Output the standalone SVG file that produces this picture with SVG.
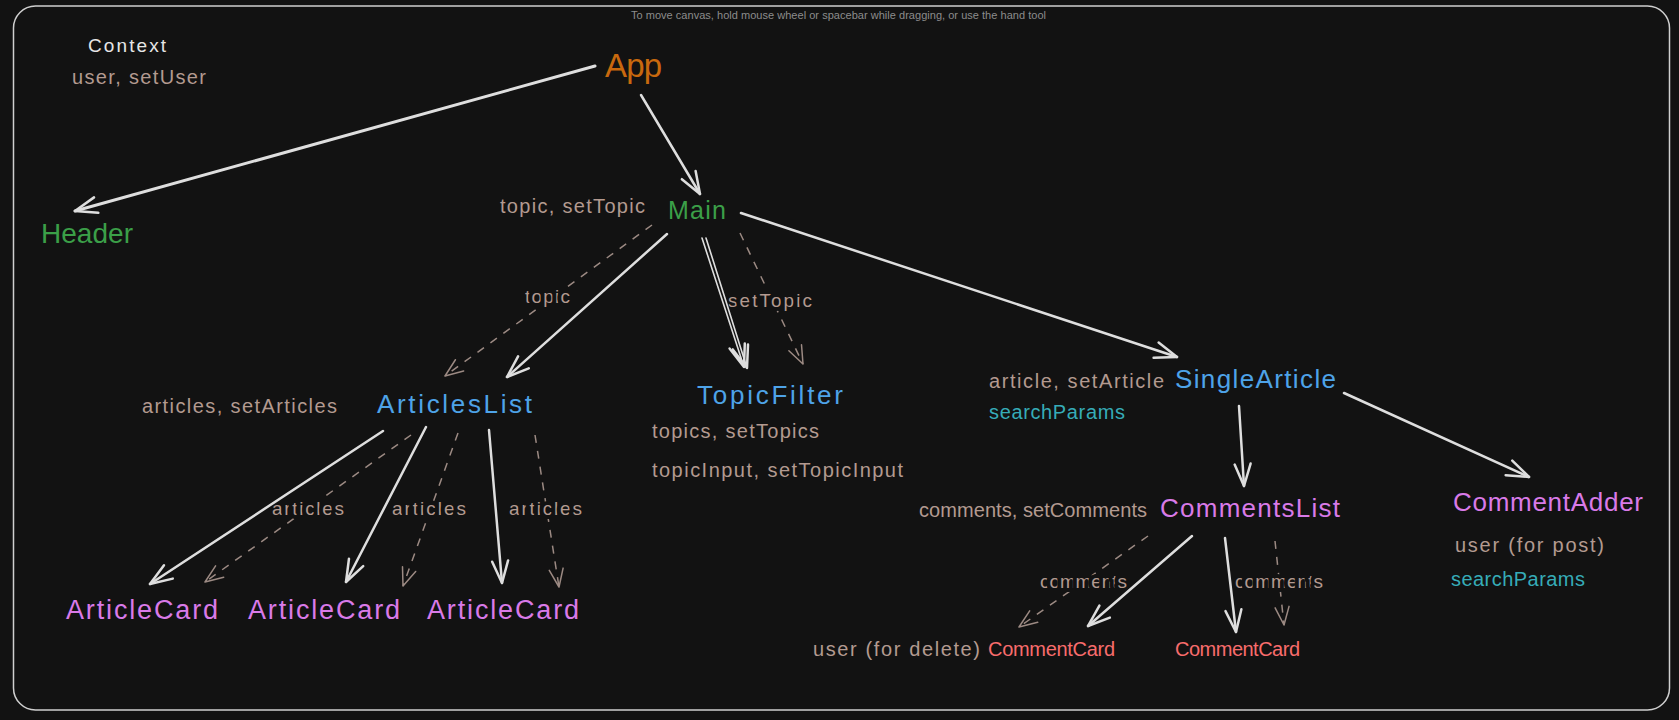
<svg xmlns="http://www.w3.org/2000/svg" width="1679" height="720" viewBox="0 0 1679 720">
<defs>
<style>
text{font-family:"Liberation Sans","DejaVu Sans",sans-serif;}
.hint{font-size:11px;fill:#8c8c8c;}
.node{font-size:26px;}
.lbl{font-size:20px;fill:#b39a90;}
.elbl{font-size:19px;fill:#b39a90;stroke:#121212;stroke-width:8px;paint-order:stroke;stroke-linejoin:round;}
.teal{fill:#36acb8;}
.green{fill:#3b9f48;}
.orange{fill:#c8690e;}
.blue{fill:#4ea3e8;}
.violet{fill:#d97ae8;}
.red{fill:#f86c6c;}
.solid{fill:none;stroke:#dedede;stroke-width:2.5;stroke-linecap:round;marker-end:url(#aw);}
.dash{fill:none;stroke:#9c8a83;stroke-width:1.5;stroke-dasharray:8 8;marker-end:url(#at);}
</style>
<marker id="aw" viewBox="-3 -3 28 22" refX="22" refY="8" markerWidth="28" markerHeight="22" markerUnits="userSpaceOnUse" orient="auto">
<path d="M0,0 L22,8 L0,16" fill="none" stroke="#dedede" stroke-width="2.5" stroke-linecap="round" stroke-linejoin="round"/>
</marker>
<marker id="at" viewBox="-3 -3 24 20" refX="18" refY="7" markerWidth="24" markerHeight="20" markerUnits="userSpaceOnUse" orient="auto">
<path d="M0,0 L18,7 L0,14" fill="none" stroke="#9c8a83" stroke-width="1.5" stroke-linecap="round" stroke-linejoin="round"/>
</marker>
</defs>
<rect x="0" y="0" width="1679" height="720" fill="#121212"/>
<rect x="13.5" y="6" width="1656" height="704" rx="22" fill="none" stroke="#cfcfcf" stroke-width="1.5"/>
<text class="hint" x="631" y="19" textLength="415">To move canvas, hold mouse wheel or spacebar while dragging, or use the hand tool</text>

<g id="context">
<text x="88" y="52" style="font-size:19px;fill:#e6e6e6" textLength="78">Context</text>
<text class="lbl" x="72" y="84" textLength="134">user, setUser</text>
</g>

<g id="connectors-dashed">
<path class="dash" d="M652,225 L445,376"/>
<path class="dash" d="M740,233 L803,364"/>
<path class="dash" d="M411,435 L205,582"/>
<path class="dash" d="M458,433 L403,586"/>
<path class="dash" d="M535,435 L559,587"/>
<path class="dash" d="M1148,536 L1019,627"/>
<path class="dash" d="M1275,541 L1284,625"/>
</g>

<g id="connector-labels">
<text class="elbl" x="525" y="303" textLength="45">topic</text>
<text class="elbl" x="728" y="307" textLength="84">setTopic</text>
<text class="elbl" x="272" y="515" textLength="72">articles</text>
<text class="elbl" x="392" y="515" textLength="74">articles</text>
<text class="elbl" x="509" y="515" textLength="73">articles</text>
<text class="elbl" x="1040" y="588" textLength="87">comments</text>
<text class="elbl" x="1235" y="588" textLength="88">comments</text>
</g>

<g id="connectors">
<path class="solid" style="stroke-width:3" d="M595,66 L75,211"/>
<path class="solid" d="M641,95 L700,194"/>
<path class="solid" d="M667,234 L507,377"/>
<path class="solid" style="stroke-width:1.6" d="M702,238 L744,367"/>
<path class="solid" style="stroke-width:1.6" d="M706,238 L747,368"/>
<path class="solid" d="M741,213 L1177,357"/>
<path class="solid" d="M383,431 L150,584"/>
<path class="solid" d="M426,427 L346,582"/>
<path class="solid" d="M489,430 L502,583"/>
<path class="solid" d="M1239,406 L1244,486"/>
<path class="solid" d="M1344,393 L1529,477"/>
<path class="solid" d="M1192,536 L1088,626"/>
<path class="solid" d="M1225,538 L1236,632"/>
</g>

<g id="App"><text class="node orange" x="605" y="77" style="font-size:33px" textLength="57">App</text></g>
<g id="Header"><text class="node green" x="41" y="243" style="font-size:28px" textLength="92">Header</text></g>
<g id="Main">
<text class="node green" x="668" y="219" style="font-size:25px" textLength="58">Main</text>
<text class="lbl" x="500" y="213" textLength="145">topic, setTopic</text>
</g>
<g id="ArticlesList">
<text class="node blue" x="377" y="413" textLength="155">ArticlesList</text>
<text class="lbl" x="142" y="413" textLength="195">articles, setArticles</text>
</g>
<g id="TopicFilter">
<text class="node blue" x="697" y="404" textLength="146">TopicFilter</text>
<text class="lbl" x="652" y="438" textLength="167">topics, setTopics</text>
<text class="lbl" x="652" y="477" textLength="251">topicInput, setTopicInput</text>
</g>
<g id="SingleArticle">
<text class="node blue" x="1175" y="388" textLength="161">SingleArticle</text>
<text class="lbl" x="989" y="388" textLength="175">article, setArticle</text>
<text class="lbl teal" x="989" y="419" textLength="136">searchParams</text>
</g>
<g id="ArticleCard1"><text class="node violet" x="66" y="619" style="font-size:27px" textLength="152">ArticleCard</text></g>
<g id="ArticleCard2"><text class="node violet" x="248" y="619" style="font-size:27px" textLength="152">ArticleCard</text></g>
<g id="ArticleCard3"><text class="node violet" x="427" y="619" style="font-size:27px" textLength="152">ArticleCard</text></g>
<g id="CommentsList">
<text class="node violet" x="1160" y="517" textLength="180">CommentsList</text>
<text class="lbl" x="919" y="517" textLength="228">comments, setComments</text>
</g>
<g id="CommentAdder">
<text class="node violet" x="1453" y="511" textLength="190">CommentAdder</text>
<text class="lbl" x="1455" y="552" textLength="149">user (for post)</text>
<text class="lbl teal" x="1451" y="586" textLength="134">searchParams</text>
</g>
<g id="CommentCard1">
<text class="node red" x="988" y="656" style="font-size:20px" textLength="127">CommentCard</text>
<text class="lbl" x="813" y="656" textLength="167">user (for delete)</text>
</g>
<g id="CommentCard2"><text class="node red" x="1175" y="656" style="font-size:20px" textLength="125">CommentCard</text></g>
</svg>
